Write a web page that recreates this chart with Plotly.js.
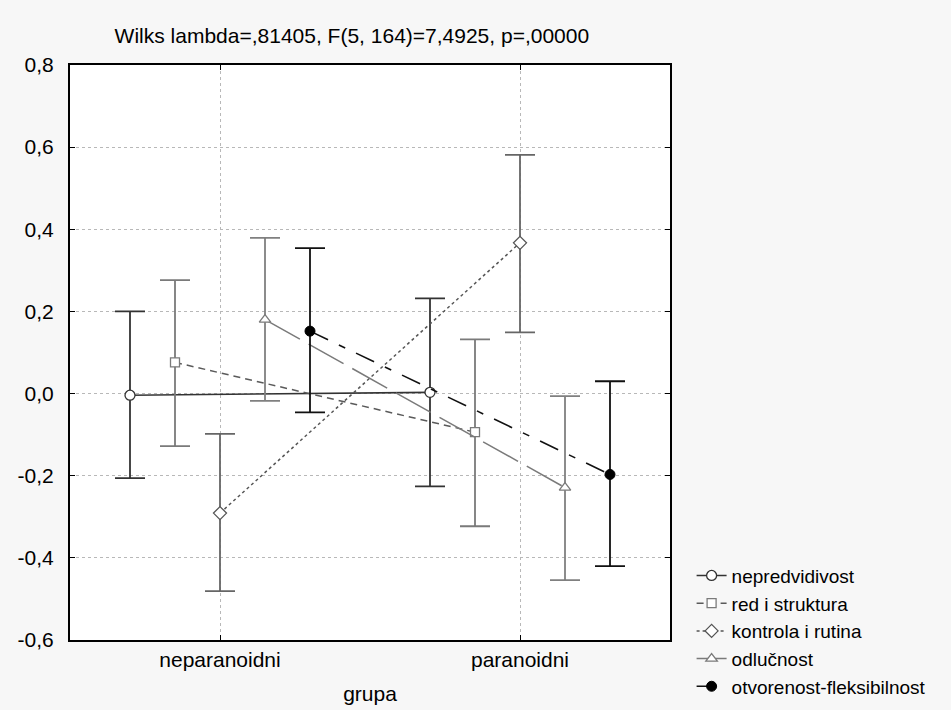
<!DOCTYPE html>
<html>
<head>
<meta charset="utf-8">
<script src="https://cdn.plot.ly/plotly-3.0.1.min.js"></script>
<style>
  html, body { margin: 0; padding: 0; background: #f7f7f7; }
  #chart { width: 951px; height: 710px; }
</style>
</head>
<body>
<div id="chart"></div>
<script>
// ---- data ----
const groups = ["neparanoidni", "paranoidni"];
const seriesNames = ["nepredvidivost", "red i struktura", "kontrola i rutina", "odlučnost", "otvorenost-fleksibilnost"];

const nepredvidivostMean  = [-0.004, 0.003];
const nepredvidivostUpper = [0.200, 0.232];
const nepredvidivostLower = [-0.206, -0.226];

const redMean  = [0.076, -0.094];
const redUpper = [0.276, 0.132];
const redLower = [-0.128, -0.323];

const kontrolaMean  = [-0.291, 0.367];
const kontrolaUpper = [-0.098, 0.581];
const kontrolaLower = [-0.481, 0.149];

const odlucnostMean  = [0.180, -0.229];
const odlucnostUpper = [0.379, -0.006];
const odlucnostLower = [-0.018, -0.454];

const otvorenostMean  = [0.152, -0.197];
const otvorenostUpper = [0.354, 0.030];
const otvorenostLower = [-0.046, -0.420];

const yTickVals = [-0.6, -0.4, -0.2, 0.0, 0.2, 0.4, 0.6, 0.8];
const yTickText = ["-0,6", "-0,4", "-0,2", "0,0", "0,2", "0,4", "0,6", "0,8"];

const titleText = "Wilks lambda=,81405, F(5, 164)=7,4925, p=,00000";
const xTitle = "grupa";

// ---- styles ----
const styles = [
  {line: {color: "#333333", width: 1.6, dash: "solid"},
   marker: {symbol: "circle", size: 10, color: "#ffffff", line: {color: "#333333", width: 1.3}},
   err: "#333333"},
  {line: {color: "#5a5a5a", width: 1.5, dash: "7px,5px"},
   marker: {symbol: "square", size: 9, color: "#ffffff", line: {color: "#7a7a7a", width: 1.3}},
   err: "#7a7a7a"},
  {line: {color: "#555555", width: 1.5, dash: "3px,3px"},
   marker: {symbol: "diamond", size: 10, color: "#ffffff", line: {color: "#555555", width: 1.3}},
   err: "#666666"},
  {line: {color: "#7a7a7a", width: 1.5, dash: "40px,10px"},
   marker: {symbol: "triangle-up", size: 10, color: "#ffffff", line: {color: "#7a7a7a", width: 1.3}},
   err: "#808080"},
  {line: {color: "#111111", width: 1.6, dash: "20px,12px,7px,12px"},
   marker: {symbol: "circle", size: 10, color: "#000000", line: {color: "#000000", width: 1}},
   err: "#111111"}
];

const means  = [nepredvidivostMean, redMean, kontrolaMean, odlucnostMean, otvorenostMean];
const uppers = [nepredvidivostUpper, redUpper, kontrolaUpper, odlucnostUpper, otvorenostUpper];
const lowers = [nepredvidivostLower, redLower, kontrolaLower, odlucnostLower, otvorenostLower];

const traces = seriesNames.map((name, i) => ({
  type: "scatter",
  mode: "lines+markers",
  name: name,
  x: groups,
  y: means[i],
  offsetgroup: String(i),
  line: styles[i].line,
  marker: styles[i].marker,
  error_y: {
    type: "data",
    symmetric: false,
    array: uppers[i].map((u, k) => u - means[i][k]),
    arrayminus: means[i].map((m, k) => m - lowers[i][k]),
    color: styles[i].err,
    thickness: 1.8,
    width: 15
  }
}));

const family = "Arial, 'Liberation Sans', sans-serif";
const font = {family: family, color: "#000000", size: 21};
const legendFont = {family: family, color: "#000000", size: 19};

const layout = {
  width: 951,
  height: 710,
  paper_bgcolor: "#f7f7f7",
  plot_bgcolor: "#ffffff",
  margin: {l: 70, r: 281, t: 65, b: 70, autoexpand: false},
  font: font,
  showlegend: true,
  scattermode: "group",
  scattergap: 0.25,
  title: {
    text: titleText,
    font: font,
    x: 0.37, xref: "container", xanchor: "center",
    y: 0.95, yref: "container", yanchor: "middle"
  },
  xaxis: {
    type: "category",
    range: [-0.5, 1.5],
    automargin: false,
    showline: true, linecolor: "#000", linewidth: 2,
    mirror: "ticks",
    ticks: "inside", ticklen: 5, tickwidth: 1, tickcolor: "#000",
    showgrid: true, gridcolor: "#b8b8b8", griddash: "dot", gridwidth: 1,
    zeroline: false,
    ticklabelstandoff: 0,
    tickfont: font,
    title: {text: xTitle, font: font, standoff: 16}
  },
  yaxis: {
    range: [-0.6, 0.8],
    automargin: false,
    tickvals: yTickVals,
    ticktext: yTickText,
    showline: true, linecolor: "#000", linewidth: 2,
    mirror: "ticks",
    ticks: "inside", ticklen: 5, tickwidth: 1, tickcolor: "#000",
    showgrid: true, gridcolor: "#b8b8b8", griddash: "dot", gridwidth: 1,
    zeroline: false,
    ticklabelstandoff: 10,
    tickfont: font
  },
  legend: {
    x: 1.036, xanchor: "left",
    y: 0.145, yanchor: "top",
    bgcolor: "rgba(0,0,0,0)",
    font: legendFont,
    tracegroupgap: 0,
    itemwidth: 30
  }
};

Plotly.newPlot("chart", traces, layout, {displayModeBar: false, staticPlot: true});
</script>
</body>
</html>
